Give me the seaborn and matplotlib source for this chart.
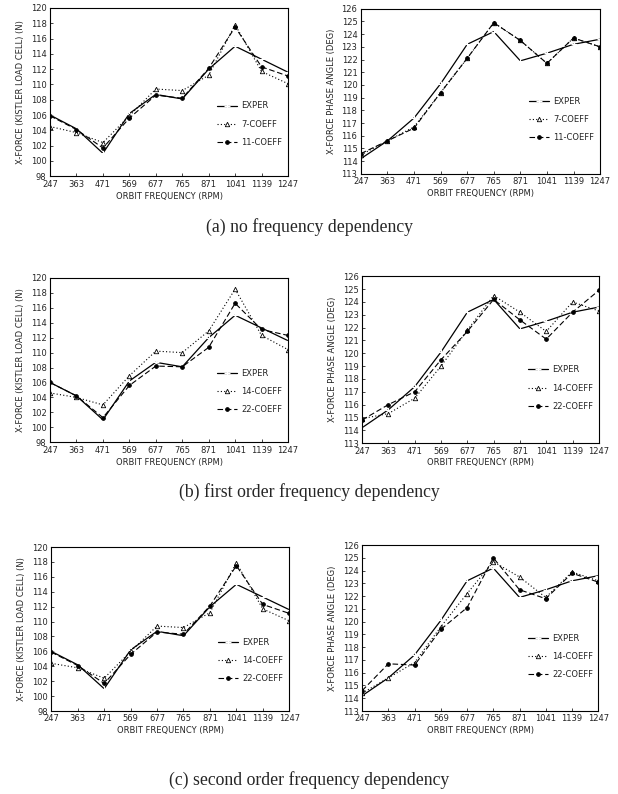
import matplotlib
matplotlib.use("Agg")
import matplotlib.pyplot as plt
import seaborn as sns

# Orbit frequencies (RPM), shown as equally spaced categories
freq_labels = ["247", "363", "471", "569", "677", "765", "871", "1041", "1139", "1247"]

# Measured force magnitude (N) and phase angle (deg)
exper_force = [106.0, 104.2, 101.0, 106.2, 108.7, 108.1, 112.0, 115.0, 113.3, 111.6]
exper_phase = [114.2, 115.6, 117.4, 120.1, 123.2, 124.2, 121.9, 122.5, 123.2, 123.6]

# (a) no frequency dependency
a_force_7 = [104.5, 103.7, 102.4, 105.9, 109.4, 109.2, 111.2, 117.8, 111.7, 110.1]
a_force_11 = [105.9, 104.1, 101.7, 105.6, 108.6, 108.2, 112.1, 117.5, 112.3, 111.1]
a_phase_7 = [114.5, 115.6, 116.7, 119.4, 122.1, 124.9, 123.5, 121.7, 123.7, 123.0]
a_phase_11 = [114.6, 115.6, 116.6, 119.4, 122.1, 124.9, 123.5, 121.7, 123.7, 123.0]

# (b) first order frequency dependency
b_force_14 = [104.6, 104.0, 103.0, 106.9, 110.2, 110.0, 112.9, 118.5, 112.3, 110.4]
b_force_22 = [106.0, 104.2, 101.3, 105.6, 108.2, 108.1, 110.7, 116.6, 113.1, 112.3]
b_phase_14 = [114.9, 115.3, 116.5, 119.0, 121.8, 124.5, 123.2, 121.7, 124.0, 123.3]
b_phase_22 = [114.8, 116.0, 117.0, 119.5, 121.7, 124.2, 122.6, 121.1, 123.2, 124.9]

# (c) second order frequency dependency
c_force_14 = [104.4, 103.8, 102.4, 106.0, 109.4, 109.2, 111.2, 117.9, 111.7, 110.1]
c_force_22 = [105.9, 104.1, 101.7, 105.6, 108.6, 108.3, 112.1, 117.5, 112.3, 111.1]
c_phase_14 = [114.4, 115.6, 116.8, 119.6, 122.2, 124.7, 123.5, 121.9, 123.9, 123.2]
c_phase_22 = [114.6, 116.7, 116.6, 119.4, 121.1, 125.0, 122.5, 121.8, 123.8, 123.1]

captions = [
    "(a) no frequency dependency",
    "(b) first order frequency dependency",
    "(c) second order frequency dependency",
]

sns.set_style("white")
plt.rcParams["font.family"] = ["DejaVu Sans"]

fig = plt.figure(figsize=(6.18, 7.94), dpi=100)

# Axes rectangles: [left, bottom, width, height] in figure fractions
rects = [
    ([0.081, 0.778, 0.385, 0.212], [0.584, 0.781, 0.387, 0.208]),
    ([0.081, 0.443, 0.385, 0.207], [0.586, 0.442, 0.383, 0.210]),
    ([0.083, 0.1045, 0.385, 0.2065], [0.586, 0.1045, 0.382, 0.209]),
]
caption_y = [0.714, 0.380, 0.0176]

rows = [
    ((a_force_7, a_force_11), (a_phase_7, a_phase_11), ("7-COEFF", "11-COEFF")),
    ((b_force_14, b_force_22), (b_phase_14, b_phase_22), ("14-COEFF", "22-COEFF")),
    ((c_force_14, c_force_22), (c_phase_14, c_phase_22), ("14-COEFF", "22-COEFF")),
]

pos = list(range(len(freq_labels)))
fs = 6.0


def draw(ax, exper, model_a, model_b, names, ylim, ylabel, leg_anchor):
    sns.lineplot(x=pos, y=exper, ax=ax, color="black", lw=0.9,
                 marker="+", markersize=4, markeredgewidth=0.8, label="EXPER")
    sns.lineplot(x=pos, y=model_a, ax=ax, color="black", lw=0.8,
                 linestyle=(0, (1, 2)), marker="^", markersize=3.2,
                 markerfacecolor="white", markeredgecolor="black",
                 markeredgewidth=0.6, label=names[0])
    sns.lineplot(x=pos, y=model_b, ax=ax, color="black", lw=0.8,
                 linestyle=(0, (5, 2.5)), marker="o", markersize=2.6,
                 markerfacecolor="black", markeredgecolor="black",
                 label=names[1])
    ax.set_xlim(0, len(pos) - 1)
    ax.set_ylim(*ylim)
    ax.set_xticks(pos)
    ax.set_xticklabels(freq_labels, fontsize=fs)
    ax.set_yticks(range(ylim[0], ylim[1] + 1, 2 if ylim[1] - ylim[0] > 15 else 1))
    ax.tick_params(axis="both", labelsize=fs, direction="in", length=2.5,
                   width=0.6, pad=2.5, bottom=True, left=True)
    ax.set_xlabel("ORBIT FREQUENCY (RPM)", fontsize=fs, labelpad=2)
    ax.set_ylabel(ylabel, fontsize=fs, labelpad=4)
    for s in ax.spines.values():
        s.set_visible(True)
        s.set_color("black")
        s.set_linewidth(0.8)
    ax.legend(loc="center left", bbox_to_anchor=leg_anchor, frameon=False,
              fontsize=fs, handlelength=2.4, labelspacing=1.1,
              handletextpad=0.5, numpoints=1)


for (lr, rr), (forces, phases, names), cy, cap in zip(rects, rows, caption_y, captions):
    ax_l = fig.add_axes(lr)
    draw(ax_l, exper_force, forces[0], forces[1], names, (98, 120),
         "X-FORCE (KISTLER LOAD CELL) (N)", (0.67, 0.31))
    ax_r = fig.add_axes(rr)
    draw(ax_r, exper_phase, phases[0], phases[1], names, (113, 126),
         "X-FORCE PHASE ANGLE (DEG)", (0.67, 0.33))
    fig.text(0.5, cy, cap, ha="center", va="center",
             fontsize=12.8, family="Liberation Serif")

fig.savefig("out.png", dpi=100, facecolor="white")
